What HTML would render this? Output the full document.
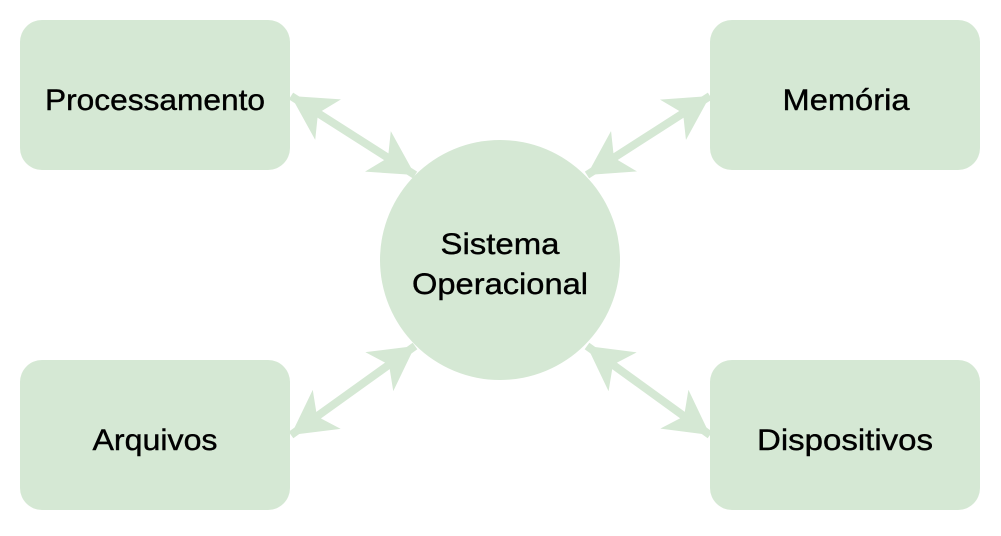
<!DOCTYPE html>
<html><head><meta charset="utf-8"><style>html,body{margin:0;padding:0;background:#fff}</style></head>
<body>
<svg width="1001" height="531" viewBox="0 0 1001 531" xmlns="http://www.w3.org/2000/svg">
<defs>
<marker id="h" viewBox="0 0 44 48" refX="44" refY="24" markerWidth="44" markerHeight="48" markerUnits="userSpaceOnUse" orient="auto-start-reverse">
<path d="M0,0 L44,24 L0,48 L12,24 Z" fill="#d5e8d4"/>
</marker>
</defs>
<g fill="#d5e8d4">
<rect x="20" y="20" width="270" height="150" rx="22"/>
<rect x="710" y="20" width="270" height="150" rx="22"/>
<rect x="20" y="360" width="270" height="150" rx="22"/>
<rect x="710" y="360" width="270" height="150" rx="22"/>
<circle cx="500" cy="260" r="120"/>
</g>
<g stroke="#d5e8d4" stroke-width="8" fill="none">
<line x1="291" y1="96" x2="415" y2="175" marker-start="url(#h)" marker-end="url(#h)"/>
<line x1="710" y1="96" x2="587" y2="175" marker-start="url(#h)" marker-end="url(#h)"/>
<line x1="291" y1="435" x2="415" y2="346" marker-start="url(#h)" marker-end="url(#h)"/>
<line x1="710" y1="435" x2="587" y2="346" marker-start="url(#h)" marker-end="url(#h)"/>
</g>
<g font-family="Liberation Sans, sans-serif" font-size="30" fill="#000" text-anchor="middle" stroke="#000" stroke-width="0.4">
<text x="155" y="110" textLength="220" lengthAdjust="spacingAndGlyphs">Processamento</text>
<text x="846" y="110" textLength="127" lengthAdjust="spacingAndGlyphs">Memória</text>
<text x="155" y="450" textLength="125" lengthAdjust="spacingAndGlyphs">Arquivos</text>
<text x="845" y="450" textLength="176" lengthAdjust="spacingAndGlyphs">Dispositivos</text>
<text x="500" y="254" textLength="119" lengthAdjust="spacingAndGlyphs">Sistema</text>
<text x="500" y="294" textLength="176" lengthAdjust="spacingAndGlyphs">Operacional</text>
</g>
</svg>
</body></html>
